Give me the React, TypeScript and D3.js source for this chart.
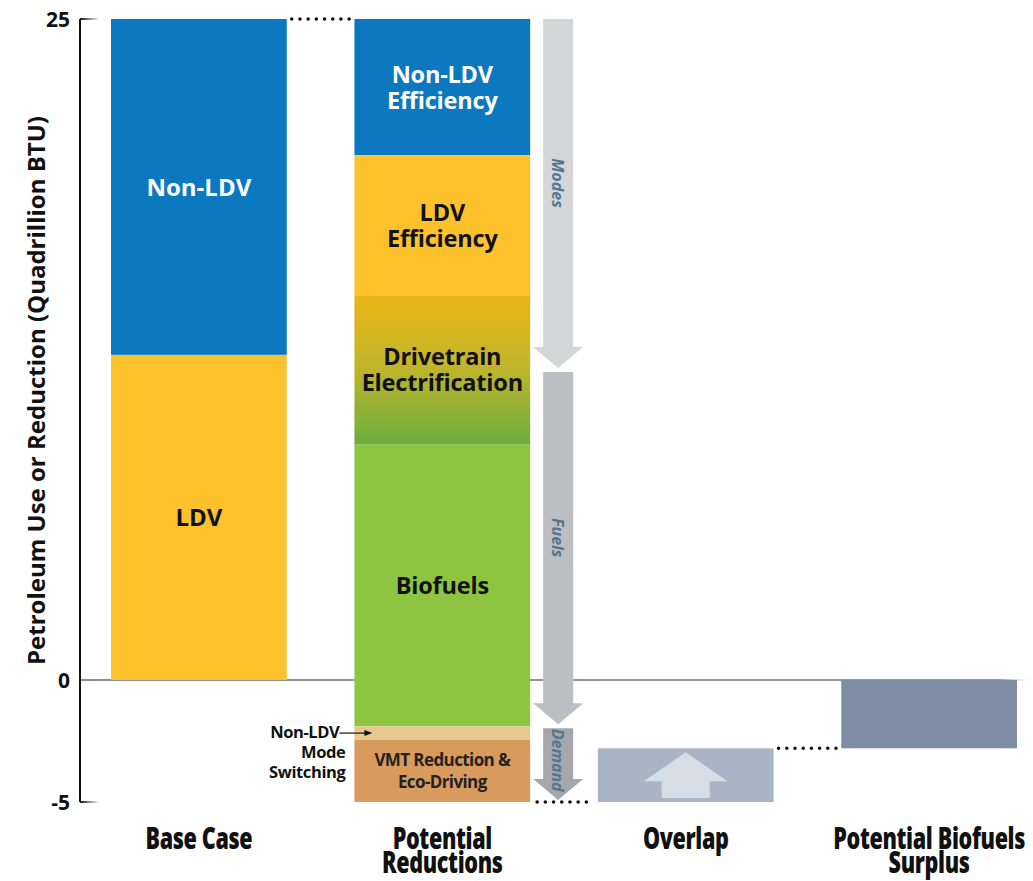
import React from "react";
import * as d3 from "d3";

// Categories along the x axis
const categories = ["Base Case", "Potential Reductions", "Overlap", "Potential Biofuels Surplus"];
const categoryLines = [["Base Case"], ["Potential", "Reductions"], ["Overlap"], ["Potential Biofuels", "Surplus"]];

// Base case petroleum use (quadrillion BTU), stacked from zero
const baseNames = ["LDV", "Non-LDV"];
const baseValues = [12.3, 12.7];

// Potential reductions, stacked downward from the base-case total
const reductionNames = [
  "Non-LDV Efficiency",
  "LDV Efficiency",
  "Drivetrain Electrification",
  "Biofuels",
  "Non-LDV Mode Switching",
  "VMT Reduction & Eco-Driving",
];
const reductionValues = [5.15, 5.3, 5.65, 10.8, 0.55, 2.55];

// Overlap between reductions, and the resulting biofuels surplus (negative)
const overlapValue = 2.2;
const surplusValue = -2.8;

const yTicks = [25, 0, -5];

const W = 1033;
const H = 881;

export default function App() {
  const x = d3.scaleBand<string>().domain(categories).range([111, 1017]).paddingInner(0.278).paddingOuter(0);
  // axis is drawn with a different spacing above and below zero
  const y = d3.scaleLinear().domain([-5, 0, 25]).range([802, 680, 19]);
  const bw = x.bandwidth();

  const baseTotal = d3.sum(baseValues);
  const baseStack = baseValues.map((v, i) => {
    const y0 = d3.sum(baseValues.slice(0, i));
    return { name: baseNames[i], y0, y1: y0 + v };
  });
  const redStack = reductionValues.map((v, i) => {
    const top = baseTotal - d3.sum(reductionValues.slice(0, i));
    return { name: reductionNames[i], top, bottom: top - v };
  });
  const redBottom = redStack[redStack.length - 1].bottom;

  const xBase = x(categories[0])!;
  const xRed = x(categories[1])!;
  const xOv = x(categories[2])!;
  const xSur = x(categories[3])!;

  const redFill = ["#0c78bf", "#fdc12b", "url(#drivetrain)", "#8dc540", "#e9c88f", "#d89b5d"];
  const redText = ["#ffffff", "#111111", "#111111", "#111111", "#111111", "#222222"];

  // Modes / Fuels / Demand arrows beside the reductions bar
  const ax = xRed + bw + 28;
  const modesEnd = (redStack[2].top + redStack[2].bottom) / 2;
  const fuelsEnd = redStack[3].bottom;
  const arrowSegs = [
    { label: "Modes", from: baseTotal, to: modesEnd, fill: "#d5d6d8" },
    { label: "Fuels", from: modesEnd, to: fuelsEnd, fill: "#bdbec1" },
    { label: "Demand", from: fuelsEnd, to: redBottom, fill: "#a5a7ab" },
  ];
  const downArrow = (yTop: number, yTip: number) => {
    const half = 15, headHalf = 25, headH = 21;
    const p = d3.path();
    p.moveTo(ax - half, yTop);
    p.lineTo(ax + half, yTop);
    p.lineTo(ax + half, yTip - headH);
    p.lineTo(ax + headHalf, yTip - headH);
    p.lineTo(ax, yTip);
    p.lineTo(ax - headHalf, yTip - headH);
    p.lineTo(ax - half, yTip - headH);
    p.closePath();
    return p.toString();
  };

  // Up arrow inside the overlap bar
  const ovTop = y(-5 + overlapValue);
  const ovBot = y(-5);
  const ovC = xOv + bw / 2;
  const upArrow = (() => {
    const p = d3.path();
    const tip = ovTop + 4, headBase = ovTop + 33, bottom = ovBot - 4;
    p.moveTo(ovC, tip);
    p.lineTo(ovC + 42, headBase);
    p.lineTo(ovC + 24, headBase);
    p.lineTo(ovC + 24, bottom);
    p.lineTo(ovC - 24, bottom);
    p.lineTo(ovC - 24, headBase);
    p.lineTo(ovC - 42, headBase);
    p.closePath();
    return p.toString();
  })();

  const labelFont = "'Open Sans', sans-serif";

  const redLines: string[][] = [
    ["Non-LDV", "Efficiency"],
    ["LDV", "Efficiency"],
    ["Drivetrain", "Electrification"],
    ["Biofuels"],
    [],
    ["VMT Reduction &", "Eco-Driving"],
  ];

  const dotted = { stroke: "#111", strokeWidth: 3.6, strokeLinecap: "round" as const, strokeDasharray: "0 8.2" };

  return (
    <svg width={W} height={H} style={{ position: "absolute", left: 0, top: 0, background: "#fff" }}>
      <defs>
        <linearGradient id="drivetrain" x1="0" y1="0" x2="0" y2="1">
          <stop offset="0" stopColor="#ebb517" />
          <stop offset="0.45" stopColor="#c4b52a" />
          <stop offset="1" stopColor="#6cad3e" />
        </linearGradient>
        <linearGradient id="tickFade" x1="0" y1="0" x2="1" y2="0">
          <stop offset="0" stopColor="#111" />
          <stop offset="1" stopColor="#111" stopOpacity="0" />
        </linearGradient>
        <linearGradient id="zeroFade" x1="0" y1="0" x2="1" y2="0">
          <stop offset="0" stopColor="#8e8e8e" />
          <stop offset="0.97" stopColor="#9a9a9a" />
          <stop offset="1" stopColor="#bbbbbb" stopOpacity="0" />
        </linearGradient>
      </defs>

      {/* zero line */}
      <rect x={80} y={y(0) - 1} width={948} height={2} fill="url(#zeroFade)" />

      {/* y axis */}
      <line x1={80} x2={80} y1={y(25)} y2={y(-5)} stroke="#111" strokeWidth={2} />
      {[25, -5].map((t) => (
        <rect key={t} x={80} y={y(t) - 1} width={19} height={2} fill="url(#tickFade)" />
      ))}
      {yTicks.map((t) => (
        <text key={t} x={70} y={y(t)} dy="0.36em" textAnchor="end" fontFamily={labelFont} fontWeight={700} fontSize={21} fill="#111">
          {t}
        </text>
      ))}
      <text
        transform={`translate(45, ${(105 + 676) / 2}) rotate(-90)`}
        textAnchor="middle"
        fontFamily={labelFont}
        fontWeight={700}
        fontSize={24}
        fill="#111"
      >
        Petroleum Use or Reduction (Quadrillion BTU)
      </text>

      {/* base case */}
      {baseStack.map((s, i) => (
        <g key={s.name}>
          <rect x={xBase} y={y(s.y1)} width={bw} height={y(s.y0) - y(s.y1)} fill={i === 0 ? "#fdc12b" : "#0c78bf"} />
          <text
            x={xBase + bw / 2}
            y={(y(s.y0) + y(s.y1)) / 2}
            dy="0.36em"
            textAnchor="middle"
            fontFamily={labelFont}
            fontWeight={700}
            fontSize={24}
            fill={i === 0 ? "#111" : "#fff"}
          >
            {s.name}
          </text>
        </g>
      ))}

      {/* potential reductions */}
      {redStack.map((s, i) => (
        <rect key={s.name} x={xRed} y={y(s.top)} width={bw} height={y(s.bottom) - y(s.top)} fill={redFill[i]} />
      ))}
      {redStack.map((s, i) => {
        const lines = redLines[i];
        const small = i === 5;
        const lh = small ? 22 : 26;
        const cy = (y(s.top) + y(s.bottom)) / 2;
        return lines.map((ln, j) => (
          <text
            key={s.name + j}
            x={xRed + bw / 2}
            y={cy + (j - (lines.length - 1) / 2) * lh}
            dy="0.36em"
            textAnchor="middle"
            fontFamily={labelFont}
            fontWeight={700}
            fontSize={small ? 17 : 23.5}
            fill={redText[i]}
            letterSpacing={small ? -0.6 : -0.2}
          >
            {ln}
          </text>
        ));
      })}

      {/* callout for the thin mode-switching band */}
      {(() => {
        const s = redStack[4];
        const cy = (y(s.top) + y(s.bottom)) / 2;
        const tx = xRed - 13;
        return (
          <g>
            <line x1={tx - 2} x2={xRed + 12} y1={cy} y2={cy} stroke="#111" strokeWidth={1.2} />
            <path d={`M${xRed + 18},${cy} L${xRed + 10},${cy - 3} L${xRed + 10},${cy + 3} Z`} fill="#111" />
            {["Non-LDV", "Mode", "Switching"].map((ln, j) => (
              <text
                key={ln}
                x={j === 0 ? tx - 2 : tx + 4}
                y={cy + j * 20 - 1}
                dy="0.36em"
                textAnchor="end"
                fontFamily={labelFont}
                fontWeight={700}
                fontSize={16.5}
                letterSpacing={-0.4}
                fill="#111"
              >
                {ln}
              </text>
            ))}
          </g>
        );
      })()}

      {/* arrows */}
      {arrowSegs.map((a, i) => {
        const top = i === 0 ? y(a.from) : y(a.from) + 2;
        const tip = y(a.to) - 2;
        const mid = (top + tip - 21) / 2;
        return (
          <g key={a.label}>
            <path d={downArrow(top, tip)} fill={a.fill} />
            <text
              transform={`translate(${ax - 6}, ${a.label === "Demand" ? top + (tip - top) / 2 - 4 : mid}) rotate(90)`}
              textAnchor="middle"
              fontFamily={labelFont}
              fontWeight={700}
              fontStyle="italic"
              fontSize={16}
              fill="#56758f"
            >
              {a.label}
            </text>
          </g>
        );
      })}

      {/* overlap */}
      <rect x={xOv} y={ovTop} width={bw} height={ovBot - ovTop} fill="#a9b5c5" />
      <path d={upArrow} fill="#d6dde5" />

      {/* surplus */}
      <rect x={xSur} y={y(0)} width={bw} height={y(surplusValue) - y(0)} fill="#7e8da3" />

      {/* dotted connectors */}
      <line x1={xBase + bw + 5} x2={xRed - 5} y1={y(baseTotal)} y2={y(baseTotal)} {...dotted} />
      <line x1={xRed + bw + 7} x2={xOv - 5} y1={y(redBottom)} y2={y(redBottom)} {...dotted} />
      <line x1={xOv + bw + 5} x2={xSur - 5} y1={ovTop} y2={ovTop} {...dotted} />

      {/* category labels, condensed horizontally */}
      {categories.map((c, i) =>
        categoryLines[i].map((ln, j) => (
          <text
            key={c + j}
            transform={`translate(${x(c)! + bw / 2}, ${849 + j * 24}) scale(0.72, 1)`}
            textAnchor="middle"
            fontFamily={labelFont}
            fontWeight={800}
            fontSize={30}
            letterSpacing={-0.5}
            fill="#111"
          >
            {ln}
          </text>
        ))
      )}
    </svg>
  );
}
